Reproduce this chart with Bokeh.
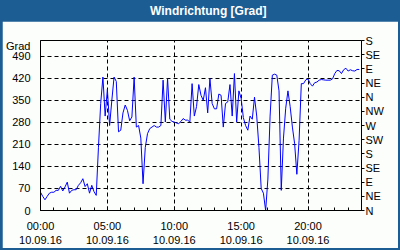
from bokeh.plotting import figure
from bokeh.layouts import column
from bokeh.models import Range1d, LinearAxis, FixedTicker
from bokeh.core.properties import value
from bokeh.embed import file_html
from bokeh.resources import INLINE

# Wind direction in degrees, 10-minute values on 10.09.16 (00:00 .. 23:50)
wind_dir = [
    58, 45, 34, 45, 55, 58, 58, 64, 64, 77, 62, 75,
    90, 55, 64, 66, 66, 80, 88, 101, 76, 85, 55, 80,
    60, 48, 201, 340, 424, 300, 385, 270, 350, 424, 410, 250,
    255, 310, 335, 318, 285, 297, 424, 265, 270, 230, 85, 200,
    244, 260, 265, 270, 265, 265, 270, 414, 281, 420, 290, 283,
    281, 278, 276, 283, 292, 287, 287, 281, 403, 300, 330, 400,
    366, 350, 390, 310, 419, 340, 323, 323, 370, 366, 265, 340,
    345, 400, 300, 435, 281, 380, 356, 295, 270, 255, 300, 290,
    360, 300, 200, 70, 55, 0, 100, 300, 430, 433, 430, 380,
    64, 230, 325, 380, 330, 265, 212, 115, 223, 403, 403, 415,
    418, 403, 395, 406, 408, 414, 416, 415, 414, 414, 414, 418,
    435, 445, 444, 435, 447, 452, 443, 447, 444, 443, 448, 448,
]
step_hours = 1 / 6
hours = [i * step_hours for i in range(len(wind_dir))]

left_ticks = [0, 70, 140, 210, 280, 350, 420, 490]
unit_text = "Grad"
unit_pos = 521
right_ticks = [0, 45, 90, 135, 180, 225, 270, 315, 360, 405, 450, 495, 540]
right_labels = ["N", "NE", "E", "SE", "S", "SW", "W", "NW", "N", "NE", "E", "SE", "S"]
time_ticks = [0, 5, 10, 15, 20]
time_labels = ["00:00\n10.09.16", "05:00\n10.09.16", "10:00\n10.09.16",
               "15:00\n10.09.16", "20:00\n10.09.16"]
hour_ticks = list(range(0, 25))
title_text = "Windrichtung [Grad]"

BLUE = "#1c5e94"
BG = "#fcfefc"
FONT = "Liberation Sans"

# ---- title bar ----
bar = figure(width=400, height=21, output_backend="svg", toolbar_location=None,
             x_range=Range1d(0, 400), y_range=Range1d(0, 21), min_border=0,
             x_axis_location=None, y_axis_location=None, margin=0)
bar.background_fill_color = BLUE
bar.border_fill_color = BLUE
bar.outline_line_color = None
bar.xgrid.visible = False
bar.ygrid.visible = False
bar.text(x=[209], y=[10.5], text=[title_text], text_align="center",
         text_baseline="middle", text_font=value(FONT), text_font_size="12px",
         text_font_style="bold", text_color="white")

# ---- main chart ----
p = figure(width=396, height=227, output_backend="svg", toolbar_location=None,
           x_range=Range1d(0, 24), y_range=Range1d(0, 540),
           min_border_left=38, min_border_right=37, min_border_top=19,
           min_border_bottom=38, x_axis_location=None, y_axis_location=None,
           margin=(0, 2, 2, 2))
p.background_fill_color = BG
p.border_fill_color = BG
p.outline_line_color = "black"
p.outline_line_width = 1

yl = LinearAxis(ticker=FixedTicker(ticks=left_ticks + [unit_pos]))
yl.major_label_overrides = {unit_pos: unit_text}
yl.major_tick_line_color = None
yl.minor_tick_line_color = None
yl.axis_line_color = "black"
yl.major_label_text_font = FONT
yl.major_label_text_font_size = "11px"
yl.major_label_text_color = "black"
yl.major_label_standoff = 4
p.add_layout(yl, "left")

yr = LinearAxis(ticker=FixedTicker(ticks=right_ticks))
yr.major_label_overrides = {t: l for t, l in zip(right_ticks, right_labels)}
yr.major_tick_in = 0
yr.major_tick_out = 3
yr.minor_tick_line_color = None
yr.axis_line_color = "black"
yr.major_label_text_font = FONT
yr.major_label_text_font_size = "11px"
yr.major_label_text_color = "black"
yr.major_label_standoff = 1
p.add_layout(yr, "right")

xb = LinearAxis(ticker=FixedTicker(ticks=time_ticks, minor_ticks=hour_ticks))
xb.major_label_overrides = {t: l for t, l in zip(time_ticks, time_labels)}
xb.major_tick_in = 4
xb.major_tick_out = 0
xb.minor_tick_in = 3
xb.minor_tick_out = 0
xb.axis_line_color = "black"
xb.major_label_text_font = FONT
xb.major_label_text_font_size = "11px"
xb.major_label_text_color = "black"
xb.major_label_standoff = 9
p.add_layout(xb, "below")

p.xgrid.ticker = FixedTicker(ticks=time_ticks[1:])
p.ygrid.ticker = FixedTicker(ticks=left_ticks[1:])
for g in (p.xgrid, p.ygrid):
    g.grid_line_color = "black"
    g.grid_line_dash = "4 3"
    g.grid_line_width = 1

p.line(hours, wind_dir, line_color="#0000ff", line_width=1)

layout = column(bar, p, spacing=0, styles={"background-color": BLUE})
open("out.html", "w").write(file_html(layout, INLINE))
